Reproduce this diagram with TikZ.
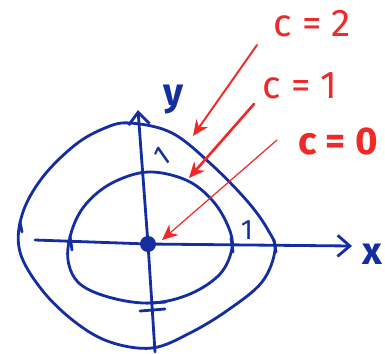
\documentclass[tikz,border=0pt]{standalone}
\usepackage{fontspec}
\setmainfont{Fira Sans}
\usetikzlibrary{arrows.meta}
\definecolor{pen}{RGB}{20,45,160}
\definecolor{redpen}{RGB}{240,40,40}
\begin{document}
\begin{tikzpicture}[x=0.02cm,y=-0.02cm,
  blue line/.style={draw=pen,line width=1.6pt,line cap=round,line join=round},
  red arrow/.style={draw=redpen,line width=1.1pt,line cap=round,-{Stealth[length=9pt,width=8pt]}},
  redlabel/.style={text=redpen,font=\fontsize{22}{24}\selectfont,inner sep=0pt},
  bluelabel/.style={text=pen,font=\bfseries\fontsize{22}{24}\selectfont,inner sep=0pt}]
\useasboundingbox (0,0) rectangle (385,353);
% axes
\coordinate (O) at (148,244);
\coordinate (xs) at (35,240);
\coordinate (xe) at (352,246);
\coordinate (ys) at (155,352);
\coordinate (ye) at (138,110);
\draw[blue line,-{Straight Barb[length=7pt,width=12pt]}] (xs) -- (O) -- (xe);
\draw[blue line,-{Straight Barb[length=7pt,width=12pt]}] (ys) -- (O) -- (ye);
\fill[pen] (O) circle (8);
\node[bluelabel] (xl) at (372,254) {x};
\node[bluelabel] (yl) at (174,100) {y};
% outer level curve c=2
\draw[blue line] plot[smooth cycle,tension=0.6] coordinates {
 (130,123) (172,133) (212,165) (248,202) (268,230) (275,250) (262,282)
 (228,310) (190,333) (152,348) (110,342) (75,322) (42,290) (20,252)
 (22,215) (42,178) (75,145) (105,128)};
% inner level curve c=1
\draw[blue line] plot[smooth cycle,tension=0.6] coordinates {
 (148,172) (186,180) (212,200) (228,226) (232,248) (220,274) (190,294)
 (152,303) (112,298) (80,284) (68,260) (72,230) (86,204) (112,183)};
% tick marks
\draw[blue line] (70,236) -- (72,250);
\draw[blue line] (231,238) -- (233,252);
\draw[blue line] (274,240) -- (276,252);
\draw[blue line] (140,311) -- (165,309);
\draw[blue line] (150,303) -- (166,302);
\draw[blue line] (20,222) -- (22,232);
\node[text=pen,font=\fontsize{16}{18}\selectfont,rotate=35] (one1) at (162,156) {1};
\node[text=pen,font=\fontsize{16}{18}\selectfont] (one2) at (247,230) {1};
% red labels
\node[redlabel] (c2) at (312,24) {c = 2};
\node[redlabel] (c1) at (300,86) {c = 1};
\node[redlabel,font=\bfseries\fontsize{22}{24}\selectfont] (c0) at (338,141) {c = 0};
\coordinate (a1s) at (257,45);
\coordinate (a1e) at (193,136);
\coordinate (a2s) at (254,104);
\coordinate (a2e) at (189,178);
\coordinate (a3s) at (277,140);
\coordinate (a3e) at (162,240);
\draw[red arrow] (a1s) -- (a1e);
\draw[red arrow,line width=1.5pt] (a2s) -- (a2e);
\draw[red arrow,line width=0.7pt] (a3s) -- (a3e);
\end{tikzpicture}
\end{document}
